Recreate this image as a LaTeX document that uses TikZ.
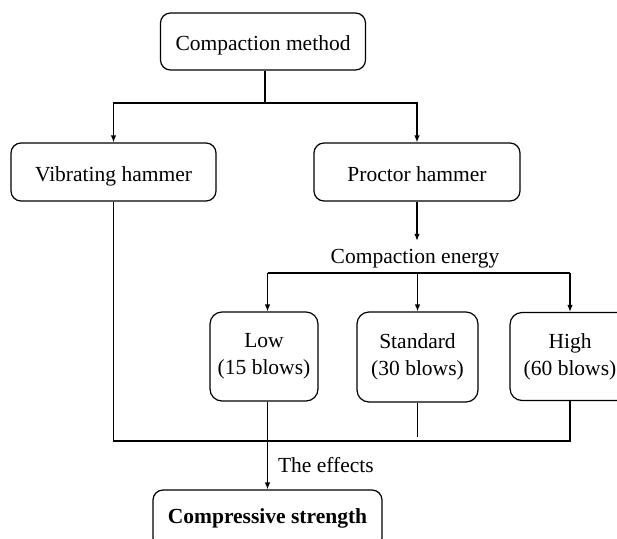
\documentclass[tikz,border=0pt]{standalone}
\usepackage{fontspec}
\setmainfont{Liberation Serif}
\usetikzlibrary{arrows.meta}
\begin{document}
\begin{tikzpicture}[x=1pt,y=-1pt,
  box/.style={draw, rounded corners=10pt, line width=1.2pt, align=center,
    font=\fontsize{21.5}{27}\selectfont, inner sep=0pt},
  onel/.style={text height=19pt, text depth=1pt},
  conn/.style={line width=1.2pt},
  arr/.style={conn,-{Latex[length=7pt,width=5.5pt]}},
  lbl/.style={font=\fontsize{21.5}{25}\selectfont, inner sep=0pt}]
\fill[white] (0,0) rectangle (617,538);
\useasboundingbox (0,0) rectangle (617,538);
\begin{scope}
\clip (0,0) rectangle (617,538);
\node[box, onel, minimum width=205pt, minimum height=57pt] (cm) at (263,41.5) {Compaction method};
\node[box, onel, minimum width=205pt, minimum height=58pt] (vh) at (113.5,172) {Vibrating hammer};
\node[box, onel, minimum width=206pt, minimum height=58pt] (ph) at (417,172) {Proctor hammer};
\node[lbl, onel] (ce) at (415,254) {Compaction energy};
\node[box, rounded corners=12pt, minimum width=108pt, minimum height=89pt] (low) at (264,356.5) {Low\\(15 blows)};
\node[box, rounded corners=12pt, minimum width=121pt, minimum height=90pt] (std) at (417.5,357) {Standard\\(30 blows)};
\node[box, rounded corners=12pt, minimum width=120pt, minimum height=88pt] (high) at (570,356.5) {High\\(60 blows)};
\node[box, text height=14pt, text depth=6pt, minimum width=229pt, minimum height=58pt, font=\fontsize{21.5}{25}\selectfont\bfseries] (cs) at (267.5,519) {Compressive strength};

\coordinate (top) at (265,103);
\coordinate (ebar) at (0,273);
\coordinate (bbar) at (0,441);
\coordinate (lowx) at (267.5,0);

% top split
\draw[conn] (cm.south -| top) -- (top);
\draw[arr] (top) -| (vh.north);
\draw[arr] (top) -| (ph.north);

% proctor to energy
\draw[arr] (ph.south) -- ([yshift=3pt]ce.north -| ph.south);

% energy split
\draw[conn] (ebar -| low.north) ++(3.5,0) coordinate (el) -- (ebar -| high.north);
\draw[arr] (el) -- (el |- low.north);
\draw[arr] (ebar -| std.north) -- (std.north);
\draw[arr] (ebar -| high.north) -- (high.north);

% bottom collection
\draw[conn] (vh.south) -- (bbar -| vh.south) -- (bbar -| high.south) -- (high.south);
\draw[conn] (std.south) -- ([yshift=4pt]bbar -| std.south);
\draw[conn] (low.south -| lowx) -- (bbar -| lowx);
\draw[arr] (bbar -| lowx) -- (cs.north -| lowx)
  node[lbl, midway, right=10pt] (eff) {The effects};
\end{scope}
\end{tikzpicture}
\end{document}
